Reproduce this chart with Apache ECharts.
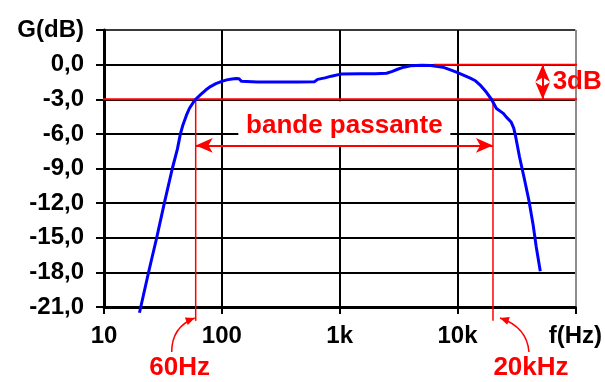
<!DOCTYPE html>
<html>
<head>
<meta charset="utf-8">
<script src="https://cdn.jsdelivr.net/npm/echarts@6/dist/echarts.min.js"></script>
<style>
  html, body { margin: 0; padding: 0; background: #fff; }
  #chart { width: 605px; height: 382px; }
</style>
</head>
<body>
<div id="chart"></div>
<script>
// Frequency response of the amplifier: frequency (Hz) and gain (dB)
const freqHz = [20, 24, 28, 32.5, 38, 42, 44.5, 46.5, 50, 53, 57, 60, 66, 73, 80, 89, 100, 110, 122, 133, 140, 147,
  200, 300, 440, 610, 650, 750, 850, 1020, 1500, 2000, 2500, 2800, 3100, 3500, 4000, 5000, 5900, 7500, 8700, 9800,
  11200, 12700, 14200, 15500, 17600, 19400, 21400, 24300, 26000, 28600, 30000, 31100, 33600, 37100, 40400, 43700,
  46600, 50400];
const gainDb = [-21.5, -17.9, -15.0, -12.0, -9.0, -7.3, -6.0, -5.3, -4.4, -3.8, -3.3, -3.0, -2.6, -2.2, -1.9, -1.65,
  -1.45, -1.32, -1.24, -1.2, -1.22, -1.45, -1.5, -1.5, -1.5, -1.48, -1.28, -1.15, -1.0, -0.82, -0.8, -0.8, -0.75,
  -0.58, -0.4, -0.22, -0.1, -0.05, -0.08, -0.22, -0.45, -0.65, -0.9, -1.15, -1.4, -1.75, -2.4, -3.0, -3.8, -4.2,
  -4.55, -5.0, -5.5, -6.2, -8.0, -10.0, -11.8, -13.8, -15.8, -17.9];

// Axis ranges and tick labels
const xMin = 10, xMax = 100000;
const yMin = -21, yMax = 3, yStep = 3;
const xTickLabels = { 10: '10', 100: '100', 1000: '1k', 10000: '10k', 100000: 'f(Hz)' };
const yTitle = 'G(dB)';

// Bandwidth annotation values
const cutLowHz = 60, cutHighHz = 20000;
const refGain = 0, cutGain = -3;
const bandArrowGain = -7;
const dbArrowHz = 52800;
const bandLabel = 'bande passante';
const dbLabel = '3dB';
const lowLabel = '60Hz', highLabel = '20kHz';

const RED = '#ff0000';
const FONT = 'Liberation Sans, Arial, sans-serif';

const chart = echarts.init(document.getElementById('chart'));

function redSeg(a, b, w) {
  return {
    type: 'line', data: [a, b], symbol: 'none', clip: false, silent: true, z: 3,
    lineStyle: { color: RED, width: w }, animation: false
  };
}

chart.setOption({
  animation: false,
  backgroundColor: '#fff',
  grid: { left: 104, top: 30, width: 476, height: 277, containLabel: false },
  xAxis: {
    type: 'log', logBase: 10, min: xMin, max: xMax,
    axisLine: { show: true, onZero: false, lineStyle: { color: '#000', width: 3 } },
    axisTick: { show: true, length: 7, lineStyle: { color: '#000', width: 2 } },
    minorTick: { show: false },
    axisLabel: {
      margin: 17, color: '#000', fontFamily: FONT, fontWeight: 'bold', fontSize: 24,
      showMinLabel: true, showMaxLabel: true,
      formatter: v => xTickLabels[Math.round(v)] || ''
    },
    splitLine: { show: true, lineStyle: { color: ['#000', '#000', '#000', '#000', '#8c8c8c'], width: 2 } }
  },
  yAxis: {
    type: 'value', min: yMin, max: yMax, interval: yStep,
    axisLine: { show: true, onZero: false, lineStyle: { color: '#000', width: 3 } },
    axisTick: { show: true, length: 8, lineStyle: { color: '#000', width: 2 } },
    axisLabel: {
      margin: 20, color: '#000', fontFamily: FONT, fontWeight: 'bold', fontSize: 24,
      formatter: v => v === yMax ? yTitle : v.toFixed(1).replace('.', ',')
    },
    splitLine: {
      show: true,
      lineStyle: { color: ['#000', '#000', '#000', '#000', '#000', '#000', '#000', '#000', '#3a3a3a'], width: 2 }
    }
  },
  series: [
    redSeg([8.7, cutGain], [128600, cutGain], 2),
    redSeg([6280, refGain], [128600, refGain], 2),
    redSeg([cutLowHz, cutGain], [cutLowHz, -22.2], 1.5),
    redSeg([cutHighHz, cutGain], [cutHighHz, -22.2], 1.5),
    {
      type: 'line', data: [], silent: true, z: 5,
      markLine: {
        silent: true, symbol: ['arrow', 'arrow'], symbolSize: [11, 17], animation: false,
        label: { show: false },
        lineStyle: { color: RED, width: 2, type: 'solid' },
        data: [
          [{ coord: [cutLowHz, bandArrowGain] }, { coord: [cutHighHz, bandArrowGain] }],
          [{ coord: [dbArrowHz, refGain] }, { coord: [dbArrowHz, cutGain] }]
        ]
      }
    },
    {
      type: 'line', data: freqHz.map((f, i) => [f, gainDb[i]]),
      symbol: 'none', smooth: false, clip: false, z: 6,
      lineStyle: { color: '#0000ff', width: 3 }
    }
  ]
});

// Annotation graphics placed from axis coordinates
const P = (f, g) => chart.convertToPixel({ gridIndex: 0 }, [f, g]);
const pLow = P(cutLowHz, cutGain), pHigh = P(cutHighHz, cutGain);
const pArrowL = P(cutLowHz, bandArrowGain), pArrowR = P(cutHighHz, bandArrowGain);
const pBase = P(xMin, yMin);
const pDb = P(dbArrowHz, refGain), pDb3 = P(dbArrowHz, cutGain);
const bx = (pArrowL[0] + pArrowR[0]) / 2;

function arrowHead(tip, from, len, half) {
  const dx = tip[0] - from[0], dy = tip[1] - from[1];
  const d = Math.hypot(dx, dy), ux = dx / d, uy = dy / d;
  const bxp = tip[0] - ux * len, byp = tip[1] - uy * len;
  return [tip, [bxp - uy * half, byp + ux * half], [bxp + uy * half, byp - ux * half]];
}

const lowStart = [pLow[0] - 24, pBase[1] + 45];
const lowCtrl = [pLow[0] - 24, pBase[1] + 20];
const lowTip = [pLow[0] - 1, pBase[1] + 11];
const highStart = [pHigh[0] + 36, pBase[1] + 45];
const highCtrl = [pHigh[0] + 34, pBase[1] + 20];
const highTip = [pHigh[0] + 7, pBase[1] + 11];

chart.setOption({
  graphic: [
    { type: 'rect', z: 1, silent: true,
      shape: { x: bx - 106, y: pLow[1] + 2, width: 212, height: pArrowL[1] - pLow[1] - 2 },
      style: { fill: '#fff' } },
    { type: 'text', z: 10, silent: true, x: bx, y: pArrowL[1] - 20,
      style: { text: bandLabel, fill: RED, font: 'bold 26px ' + FONT, align: 'center', verticalAlign: 'middle' } },
    { type: 'text', z: 10, silent: true, x: pDb[0] + 10, y: (pDb[1] + pDb3[1]) / 2,
      style: { text: dbLabel, fill: RED, font: 'bold 26px ' + FONT, align: 'left', verticalAlign: 'middle' } },
    { type: 'text', z: 10, silent: true, x: pLow[0] - 16, y: pBase[1] + 61,
      style: { text: lowLabel, fill: RED, font: 'bold 26px ' + FONT, align: 'center', verticalAlign: 'middle' } },
    { type: 'text', z: 10, silent: true, x: pHigh[0] + 38, y: pBase[1] + 61,
      style: { text: highLabel, fill: RED, font: 'bold 26px ' + FONT, align: 'center', verticalAlign: 'middle' } },
    { type: 'bezierCurve', z: 10, silent: true,
      shape: { x1: lowStart[0], y1: lowStart[1], x2: lowTip[0], y2: lowTip[1], cpx1: lowCtrl[0], cpy1: lowCtrl[1] },
      style: { stroke: RED, lineWidth: 1.5, fill: null } },
    { type: 'polygon', z: 10, silent: true,
      shape: { points: arrowHead(lowTip, lowCtrl, 9, 4) }, style: { fill: RED } },
    { type: 'bezierCurve', z: 10, silent: true,
      shape: { x1: highStart[0], y1: highStart[1], x2: highTip[0], y2: highTip[1], cpx1: highCtrl[0], cpy1: highCtrl[1] },
      style: { stroke: RED, lineWidth: 1.5, fill: null } },
    { type: 'polygon', z: 10, silent: true,
      shape: { points: arrowHead(highTip, highCtrl, 9, 4) }, style: { fill: RED } }
  ]
});
</script>
</body>
</html>
